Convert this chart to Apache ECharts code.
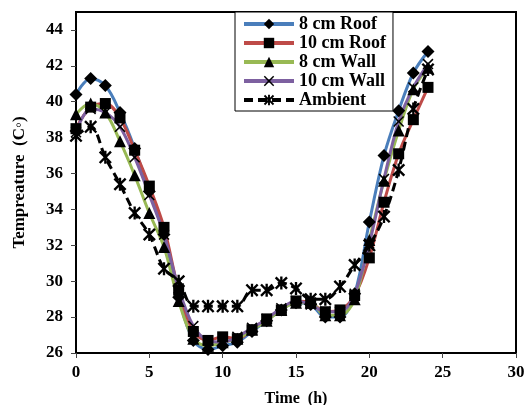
<!DOCTYPE html>
<html>
<head>
<meta charset="utf-8">
<script src="https://cdn.jsdelivr.net/npm/echarts@6/dist/echarts.min.js"></script>
<style>
  html, body { margin: 0; padding: 0; background: #fff; }
  #main { width: 531px; height: 405px; }
</style>
</head>
<body>
<div id="main"></div>
<script>
// data
const hours = [0, 1, 2, 3, 4, 5, 6, 7, 8, 9, 10, 11, 12, 13, 14, 15, 16, 17, 18, 19, 20, 21, 22, 23, 24];
const roof8 = [40.4, 41.3, 40.9, 39.4, 37.4, 35.0, 32.6, 29.1, 26.7, 26.2, 26.4, 26.6, 27.2, 27.8, 28.4, 28.8, 28.7, 28.0, 28.0, 29.3, 33.3, 37.0, 39.5, 41.6, 42.8];
const roof10 = [38.5, 39.7, 39.9, 39.1, 37.3, 35.3, 33.0, 29.5, 27.2, 26.7, 26.9, 26.8, 27.3, 27.9, 28.4, 28.9, 28.8, 28.3, 28.4, 29.2, 31.3, 34.4, 37.1, 39.0, 40.8];
const wall8 = [39.3, 39.9, 39.4, 37.8, 35.9, 33.8, 31.9, 28.9, 26.8, 26.4, 26.6, 26.8, 27.3, 27.8, 28.4, 28.8, 28.8, 28.1, 28.1, 29.0, 32.3, 35.6, 38.4, 40.7, 41.9];
const wall10 = [38.3, 39.6, 39.4, 38.6, 36.9, 34.8, 32.6, 29.6, 27.5, 26.7, 26.6, 26.9, 27.4, 27.9, 28.5, 28.9, 28.7, 28.3, 28.3, 29.3, 32.1, 35.7, 38.9, 40.8, 42.1];
const ambient = [38.1, 38.6, 36.9, 35.4, 33.8, 32.6, 30.7, 30.0, 28.6, 28.6, 28.6, 28.6, 29.5, 29.5, 29.9, 29.6, 29.0, 29.0, 29.7, 30.9, 32.0, 33.6, 36.2, 39.6, 41.8];
const seriesNames = ['8 cm Roof', '10 cm Roof', '8 cm Wall', '10 cm Wall', 'Ambient'];
const xTicks = [0, 5, 10, 15, 20, 25, 30];
const yTicks = [26, 28, 30, 32, 34, 36, 38, 40, 42, 44];

const font = '"Liberation Serif", "Times New Roman", serif';
const crossPath = 'path://M0,1 L1,0 L5,4 L9,0 L10,1 L6,5 L10,9 L9,10 L5,6 L1,10 L0,9 L4,5 Z';
const starPath = 'path://M0,1.3 L1.3,0 L5,3.7 L8.7,0 L10,1.3 L6.3,5 L10,8.7 L8.7,10 L5,6.3 L1.3,10 L0,8.7 L3.7,5 Z M4.1,0 L5.9,0 L5.9,10 L4.1,10 Z';

function pairs(vals) {
  return hours.map((h, i) => [h, vals[i]]);
}

function lineSeries(name, vals, color, symbol, size, dashed) {
  return {
    name: name,
    type: 'line',
    smooth: 0.35,
    data: pairs(vals),
    symbol: symbol,
    symbolSize: size,
    showSymbol: true,
    itemStyle: { color: '#000' },
    lineStyle: { color: color, width: 3, type: dashed ? [9, 5] : 'solid' },
    z: dashed ? 3 : 2
  };
}

const chart = echarts.init(document.getElementById('main'));
const option = {
  animation: false,
  backgroundColor: '#fff',
  grid: {
    left: 76, right: 15, top: 12, bottom: 52,
    outerBoundsMode: 'none',
    show: true, borderColor: '#000', borderWidth: 2
  },
  legend: {
    data: seriesNames,
    orient: 'vertical',
    left: 235,
    top: 12,
    itemWidth: 50,
    itemHeight: 13,
    itemGap: 1,
    padding: [3, 7, 2, 7],
    borderColor: '#000',
    borderWidth: 1,
    backgroundColor: '#fff',
    lineStyle: { width: 4 },
    textStyle: { fontFamily: font, fontWeight: 'bold', fontSize: 18, color: '#000' }
  },
  xAxis: {
    type: 'value',
    min: 0,
    max: 30,
    interval: 5,
    name: 'Time  (h)',
    nameLocation: 'middle',
    nameGap: 38,
    nameTextStyle: { fontFamily: font, fontWeight: 'bold', fontSize: 16, color: '#000' },
    axisLine: { lineStyle: { color: '#000', width: 2 } },
    axisTick: { customValues: xTicks, length: 5, lineStyle: { color: '#444' } },
    axisLabel: { customValues: xTicks, fontFamily: font, fontWeight: 'bold', fontSize: 17, color: '#000', margin: 11 },
    splitLine: { show: false }
  },
  yAxis: {
    type: 'value',
    min: 26,
    max: 45,
    interval: 2,
    name: 'Tempreature  (C\u25E6)',
    nameLocation: 'middle',
    nameGap: 48,
    nameTextStyle: { fontFamily: font, fontWeight: 'bold', fontSize: 17, color: '#000' },
    axisLine: { lineStyle: { color: '#000', width: 2 } },
    axisTick: { customValues: yTicks, length: 5, lineStyle: { color: '#444' } },
    axisLabel: { customValues: yTicks, fontFamily: font, fontWeight: 'bold', fontSize: 17, color: '#000', margin: 13 },
    splitLine: { show: false }
  },
  series: [
    lineSeries(seriesNames[0], roof8, '#4A7EBB', 'diamond', 13, false),
    lineSeries(seriesNames[1], roof10, '#BE4B48', 'rect', 11, false),
    lineSeries(seriesNames[2], wall8, '#98B954', 'triangle', 12, false),
    lineSeries(seriesNames[3], wall10, '#7D60A0', crossPath, 11, false),
    lineSeries(seriesNames[4], ambient, '#000', starPath, 13, true)
  ]
};
option && chart.setOption(option);
</script>
</body>
</html>
